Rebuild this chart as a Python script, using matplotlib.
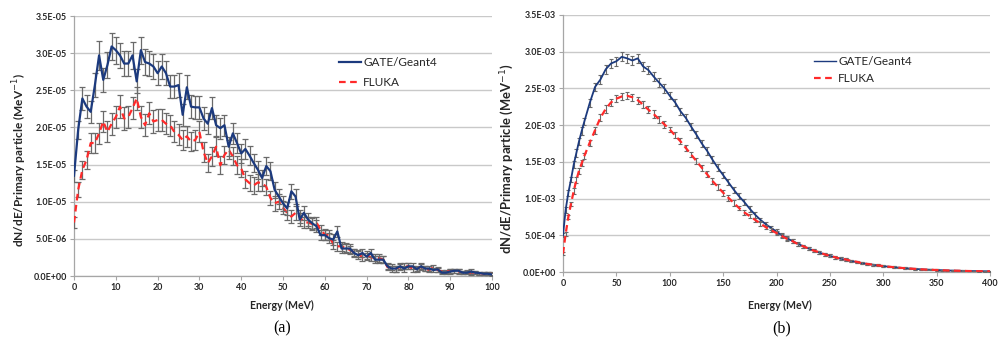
import matplotlib
matplotlib.use("Agg")
import matplotlib.pyplot as plt
from matplotlib.lines import Line2D

# ---------------- Panel (a) data: 1 MeV bins, values in 1e-5 MeV^-1 ----------------
energy_a = list(range(0, 101))
gate_a = [1.35, 1.97, 2.39, 2.28, 2.21, 2.57, 2.97, 2.64, 2.84, 3.09,
          3.04, 2.97, 2.86, 2.86, 2.97, 2.62, 3.04, 2.88, 2.86, 2.82,
          2.73, 2.82, 2.73, 2.55, 2.55, 2.57, 2.17, 2.54, 2.28, 2.27,
          2.27, 2.12, 2.05, 2.26, 2.03, 1.99, 2.03, 1.74, 1.92, 1.79,
          1.65, 1.71, 1.62, 1.52, 1.43, 1.32, 1.48, 1.41, 1.16, 1.07,
          0.98, 0.91, 1.14, 1.07, 0.76, 0.85, 0.76, 0.71, 0.67, 0.55,
          0.55, 0.51, 0.49, 0.60, 0.37, 0.37, 0.37, 0.31, 0.28, 0.31,
          0.26, 0.31, 0.22, 0.22, 0.22, 0.13, 0.10, 0.10, 0.13, 0.10,
          0.13, 0.13, 0.09, 0.13, 0.10, 0.10, 0.08, 0.09, 0.045, 0.045,
          0.06, 0.07, 0.07, 0.045, 0.045, 0.06, 0.045, 0.04, 0.03, 0.03, 0.02]
fluka_a = [0.72, 1.16, 1.43, 1.56, 1.79, 1.79, 1.92, 2.08, 1.94, 2.05,
           2.14, 2.28, 2.12, 2.14, 2.26, 2.39, 2.14, 2.03, 2.19, 2.08,
           2.10, 2.10, 2.05, 2.03, 1.94, 1.90, 1.83, 1.88, 1.81, 1.83,
           1.94, 1.67, 1.52, 1.61, 1.74, 1.49, 1.63, 1.70, 1.61, 1.49,
           1.45, 1.30, 1.25, 1.22, 1.26, 1.25, 1.20, 1.05, 0.98, 1.00,
           0.92, 0.85, 0.80, 0.85, 0.80, 0.72, 0.72, 0.70, 0.72, 0.62,
           0.56, 0.55, 0.43, 0.40, 0.40, 0.38, 0.35, 0.32, 0.30, 0.25,
           0.28, 0.25, 0.25, 0.24, 0.22, 0.12, 0.12, 0.10, 0.12, 0.13,
           0.13, 0.10, 0.10, 0.12, 0.10, 0.08, 0.12, 0.08, 0.06, 0.06,
           0.07, 0.07, 0.06, 0.05, 0.06, 0.04, 0.05, 0.04, 0.03, 0.04, 0.03]
gate_a_err = [0.08, 0.12, 0.15, 0.15, 0.15, 0.16, 0.20, 0.16, 0.17, 0.18,
              0.18, 0.17, 0.17, 0.17, 0.18, 0.16, 0.18, 0.17, 0.17, 0.17,
              0.16, 0.17, 0.16, 0.16, 0.16, 0.16, 0.15, 0.16, 0.15, 0.15,
              0.15, 0.15, 0.14, 0.15, 0.14, 0.14, 0.14, 0.13, 0.14, 0.13,
              0.13, 0.13, 0.13, 0.12, 0.12, 0.11, 0.12, 0.12, 0.11, 0.10,
              0.10, 0.09, 0.10, 0.10, 0.09, 0.09, 0.09, 0.08, 0.08, 0.07,
              0.07, 0.07, 0.07, 0.07, 0.06, 0.06, 0.06, 0.05, 0.05, 0.05,
              0.05, 0.05, 0.05, 0.05, 0.05, 0.04, 0.04, 0.04, 0.04, 0.04,
              0.04, 0.04, 0.03, 0.04, 0.03, 0.03, 0.03, 0.03, 0.02, 0.02,
              0.03, 0.03, 0.03, 0.02, 0.02, 0.03, 0.02, 0.02, 0.02, 0.02, 0.02]
fluka_a_err = [0.07, 0.10, 0.12, 0.12, 0.13, 0.13, 0.14, 0.14, 0.14, 0.15,
               0.15, 0.15, 0.15, 0.15, 0.15, 0.16, 0.15, 0.15, 0.15, 0.15,
               0.15, 0.15, 0.14, 0.14, 0.14, 0.14, 0.14, 0.14, 0.13, 0.13,
               0.14, 0.13, 0.12, 0.13, 0.13, 0.12, 0.12, 0.13, 0.12, 0.12,
               0.12, 0.11, 0.11, 0.11, 0.11, 0.11, 0.11, 0.10, 0.10, 0.10,
               0.09, 0.09, 0.09, 0.09, 0.09, 0.08, 0.08, 0.08, 0.08, 0.07,
               0.07, 0.07, 0.06, 0.06, 0.06, 0.06, 0.06, 0.05, 0.05, 0.05,
               0.05, 0.05, 0.05, 0.05, 0.05, 0.04, 0.04, 0.04, 0.04, 0.04,
               0.04, 0.04, 0.03, 0.04, 0.03, 0.03, 0.03, 0.03, 0.02, 0.02,
               0.03, 0.03, 0.03, 0.02, 0.02, 0.03, 0.02, 0.02, 0.02, 0.02, 0.02]
yticks_a = [0.0, 0.5, 1.0, 1.5, 2.0, 2.5, 3.0, 3.5]
ylabels_a = ['0.0E+00', '5.0E-06', '1.0E-05', '1.5E-05', '2.0E-05', '2.5E-05', '3.0E-05', '3.5E-05']
xticks_a = [0, 10, 20, 30, 40, 50, 60, 70, 80, 90, 100]

# ---------------- Panel (b) data: values in 1e-3 MeV^-1 ----------------
energy_b = [0, 2.5, 5, 7.5, 10, 12.5, 15, 17.5, 20, 25, 30, 35, 40, 45, 50, 55, 60, 65, 70,
            75, 80, 85, 90, 95, 100, 105, 110, 115, 120, 125, 130, 135, 140, 145, 150,
            155, 160, 165, 170, 175, 180, 185, 190, 195, 200, 205, 210, 215, 220, 225,
            230, 235, 240, 245, 250, 255, 260, 265, 270, 275, 280, 285, 290, 295, 300,
            305, 310, 315, 320, 325, 330, 335, 340, 345, 350, 355, 360, 365, 370, 375,
            380, 385, 390, 395, 400]
gate_b = [0.50, 0.85, 1.08, 1.26, 1.46, 1.62, 1.78, 1.92, 2.05, 2.30, 2.52, 2.62, 2.76, 2.84, 2.87,
          2.93, 2.91, 2.88, 2.91, 2.80, 2.75, 2.66, 2.58, 2.50, 2.40, 2.31, 2.19, 2.10, 1.98,
          1.87, 1.75, 1.65, 1.53, 1.42, 1.32, 1.22, 1.12, 1.03, 0.95, 0.86, 0.78, 0.71, 0.65,
          0.60, 0.55, 0.50, 0.46, 0.42, 0.385, 0.35, 0.32, 0.29, 0.265, 0.24, 0.22, 0.20,
          0.18, 0.165, 0.15, 0.135, 0.12, 0.11, 0.10, 0.09, 0.08, 0.072, 0.065, 0.058,
          0.052, 0.047, 0.042, 0.037, 0.033, 0.030, 0.027, 0.024, 0.021, 0.019, 0.017,
          0.015, 0.013, 0.012, 0.011, 0.010, 0.009]
fluka_b = [0.25, 0.52, 0.75, 0.93, 1.10, 1.25, 1.38, 1.48, 1.58, 1.76, 1.93, 2.10, 2.22, 2.31, 2.36,
           2.39, 2.40, 2.38, 2.34, 2.28, 2.21, 2.15, 2.08, 2.01, 1.94, 1.86, 1.78, 1.69, 1.60,
           1.51, 1.42, 1.33, 1.24, 1.16, 1.08, 1.01, 0.94, 0.87, 0.81, 0.76, 0.71, 0.66, 0.61,
           0.57, 0.53, 0.49, 0.45, 0.42, 0.38, 0.35, 0.32, 0.29, 0.27, 0.24, 0.22, 0.20,
           0.18, 0.17, 0.15, 0.14, 0.12, 0.11, 0.10, 0.09, 0.08, 0.072, 0.065, 0.058,
           0.052, 0.047, 0.042, 0.037, 0.033, 0.030, 0.027, 0.024, 0.021, 0.019, 0.017,
           0.015, 0.013, 0.012, 0.011, 0.010, 0.009]
gate_b_err = [0.03, 0.04, 0.04, 0.04, 0.05, 0.05, 0.05, 0.05, 0.05, 0.05, 0.06, 0.06, 0.06, 0.06, 0.06,
              0.06, 0.06, 0.06, 0.06, 0.06, 0.06, 0.06, 0.06, 0.06, 0.05, 0.05, 0.05, 0.05, 0.05,
              0.05, 0.05, 0.05, 0.05, 0.05, 0.04, 0.04, 0.04, 0.04, 0.04, 0.04, 0.04, 0.03, 0.03,
              0.03, 0.03, 0.03, 0.03, 0.03, 0.03, 0.02, 0.02, 0.02, 0.02, 0.02, 0.02, 0.02,
              0.02, 0.02, 0.02, 0.015, 0.015, 0.015, 0.015, 0.015, 0.01, 0.01, 0.01, 0.01,
              0.01, 0.01, 0.01, 0.01, 0.008, 0.008, 0.008, 0.008, 0.008, 0.006, 0.006,
              0.006, 0.006, 0.005, 0.005, 0.005, 0.005]
fluka_b_err = [0.02, 0.03, 0.03, 0.03, 0.04, 0.04, 0.04, 0.04, 0.04, 0.04, 0.05, 0.05, 0.05, 0.05, 0.05,
               0.05, 0.05, 0.05, 0.05, 0.05, 0.05, 0.05, 0.05, 0.05, 0.04, 0.04, 0.04, 0.04, 0.04,
               0.04, 0.04, 0.04, 0.04, 0.04, 0.04, 0.04, 0.04, 0.03, 0.03, 0.03, 0.03, 0.03, 0.03,
               0.03, 0.03, 0.03, 0.03, 0.03, 0.02, 0.02, 0.02, 0.02, 0.02, 0.02, 0.02, 0.02,
               0.02, 0.02, 0.02, 0.015, 0.015, 0.015, 0.015, 0.015, 0.01, 0.01, 0.01, 0.01,
               0.01, 0.01, 0.01, 0.01, 0.008, 0.008, 0.008, 0.008, 0.008, 0.006, 0.006,
               0.006, 0.006, 0.005, 0.005, 0.005, 0.005]
yticks_b = [0.0, 0.5, 1.0, 1.5, 2.0, 2.5, 3.0, 3.5]
ylabels_b = ['0.0E+00', '5.0E-04', '1.0E-03', '1.5E-03', '2.0E-03', '2.5E-03', '3.0E-03', '3.5E-03']
xticks_b = [0, 50, 100, 150, 200, 250, 300, 350, 400]

series_names = ['GATE/Geant4', 'FLUKA']
ylabel_text = 'dN/dE/Primary particle (MeV$^{-1}$)'
xlabel_text = 'Energy (MeV)'
panel_tags = ['(a)', '(b)']

BLUE = '#1c3a7e'
RED = '#ff2a2a'
ERR = '#6a6a6a'
GRID = '#c9c9c9'
AXC = '#a6a6a6'
TXT = '#262626'
FONT = ['Lato', 'DejaVu Sans']

W, H = 999, 342
fig = plt.figure(figsize=(W / 100, H / 100), dpi=100)


def axes_px(l, r, t, b):
    return fig.add_axes([l / W, 1 - b / H, (r - l) / W, (b - t) / H])


def style(ax, xticks, xlim, yticks, ylabels):
    ax.set_xlim(*xlim)
    ax.set_ylim(0, 3.5)
    ax.set_yticks(yticks, ylabels)
    ax.set_xticks(xticks, [str(v) for v in xticks])
    for s in ['top', 'right']:
        ax.spines[s].set_visible(False)
    for s in ['left', 'bottom']:
        ax.spines[s].set_color(AXC)
        ax.spines[s].set_linewidth(0.9)
    ax.grid(axis='y', color=GRID, linewidth=1.0)
    ax.set_axisbelow(True)
    ax.tick_params(axis='both', direction='out', length=3, width=0.8, color=AXC,
                   labelsize=6.4, labelcolor=TXT, pad=2)
    for lab in ax.get_xticklabels() + ax.get_yticklabels():
        lab.set_fontweight('bold')
        lab.set_family(FONT)


# ---- Panel (a)
axa = axes_px(74, 492, 16, 276)
axa.errorbar(energy_a, fluka_a, yerr=fluka_a_err, color=RED, ls=(0, (3, 2)), lw=1.6,
             ecolor=ERR, elinewidth=0.9, capsize=2.2, capthick=0.9, zorder=3)
axa.errorbar(energy_a, gate_a, yerr=gate_a_err, color=BLUE, ls='-', lw=1.6,
             ecolor=ERR, elinewidth=0.9, capsize=2.2, capthick=0.9, zorder=4)
style(axa, xticks_a, (0, 100), yticks_a, ylabels_a)

# ---- Panel (b)
axb = axes_px(563, 990, 15, 272)
axb.errorbar(energy_b, gate_b, yerr=gate_b_err, color=BLUE, ls='-', lw=1.3,
             ecolor=ERR, elinewidth=0.8, capsize=1.6, capthick=0.8, zorder=3)
axb.errorbar(energy_b, fluka_b, yerr=fluka_b_err, color=RED, ls=(0, (3, 2)), lw=1.6,
             ecolor=ERR, elinewidth=0.8, capsize=1.6, capthick=0.8, zorder=4)
style(axb, xticks_b, (0, 400), yticks_b, ylabels_b)

# ---- legends
h_a = [Line2D([], [], color=BLUE, lw=1.6), Line2D([], [], color=RED, lw=1.6, ls=(0, (3, 2)))]
h_b = [Line2D([], [], color=BLUE, lw=1.0), Line2D([], [], color=RED, lw=1.6, ls=(0, (3, 2)))]
for ax, hs, anchor, sp, (l, r) in [
        (axa, h_a, None, 0.75, (74, 492)),
        (axb, h_b, None, 0.55, (563, 990))]:
    pass

axa.legend(h_a, series_names, loc='upper left',
           bbox_to_anchor=((339 - 74) / 418, 1 - (57 - 16) / 260), frameon=False,
           handlelength=1.9, handletextpad=0.15, labelspacing=0.75, borderpad=0,
           borderaxespad=0, prop={'family': FONT, 'size': 8.5}, labelcolor=TXT)
axb.legend(h_b, series_names, loc='upper left',
           bbox_to_anchor=((814 - 563) / 427, 1 - (56 - 15) / 257), frameon=False,
           handlelength=1.9, handletextpad=0.15, labelspacing=0.55, borderpad=0,
           borderaxespad=0, prop={'family': FONT, 'size': 8.5}, labelcolor=TXT)

# ---- axis titles and panel tags
for x, yc, fs in [(20, 160, 8.6), (507, 159, 9.4)]:
    fig.text(x / W, 1 - yc / H, ylabel_text, rotation=90, ha='center', va='center',
             fontsize=fs, fontweight='bold', family=FONT, color=TXT)
for x in [282, 780]:
    fig.text(x / W, 1 - 305 / H, xlabel_text, ha='center', va='center',
             fontsize=7.6, fontweight='bold', family=FONT, color=TXT)
for x, t in zip([282, 782], panel_tags):
    fig.text(x / W, 1 - 328 / H, t, ha='center', va='center', fontsize=11.5,
             family=['Liberation Serif', 'DejaVu Serif'], color='black')

fig.savefig('out.png', dpi=100)
